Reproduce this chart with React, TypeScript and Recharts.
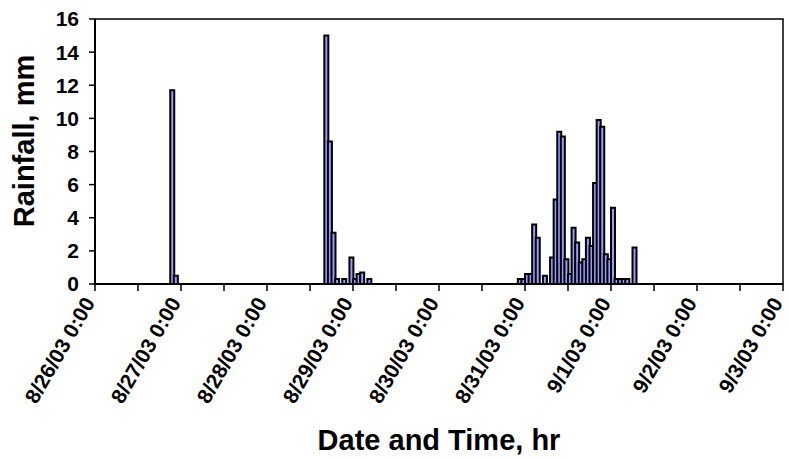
import { BarChart, Bar, XAxis, YAxis, Label, ReferenceArea } from 'recharts';

// hour index (from 8/26/03 0:00) and hourly rainfall, mm
const rainHours = [
  21, 22,
  64, 65, 66, 67, 69, 71, 72, 73, 74, 76,
  118, 119, 120, 121, 122, 123, 125, 127, 128, 129, 130, 131, 132, 133, 134, 135,
  136, 137, 138, 139, 140, 141, 142, 143, 144, 145, 146, 147, 148, 150,
];
const rainMm = [
  11.7, 0.5,
  15.0, 8.6, 3.1, 0.3, 0.3, 1.6, 0.3, 0.6, 0.7, 0.3,
  0.3, 0.3, 0.6, 0.6, 3.6, 2.8, 0.5, 1.6, 5.1, 9.2, 8.9, 1.5, 0.6, 3.4, 2.5, 1.3,
  1.5, 2.8, 2.3, 6.1, 9.9, 9.5, 1.8, 1.5, 4.6, 0.3, 0.3, 0.3, 0.3, 2.2,
];
const dateLabels = [
  '8/26/03 0:00', '8/27/03 0:00', '8/28/03 0:00', '8/29/03 0:00', '8/30/03 0:00',
  '8/31/03 0:00', '9/1/03 0:00', '9/2/03 0:00', '9/3/03 0:00',
];
const yTicks = [0, 2, 4, 6, 8, 10, 12, 14, 16];
const TOTAL_HOURS = 192;

const data = Array.from({ length: TOTAL_HOURS }, (_, h) => {
  const i = rainHours.indexOf(h);
  return { t: h + 0.5, rain: i >= 0 ? rainMm[i] : 0 };
});
const xTicks = Array.from({ length: TOTAL_HOURS / 12 + 1 }, (_, i) => i * 12);

const FONT = '"Liberation Sans", Arial, sans-serif';

function DateTick({ x, y, payload }: any) {
  const idx = payload.value / 24;
  if (!Number.isInteger(idx)) return null;
  const ax = x - 6;
  const ay = y + 4;
  return (
    <text
      x={ax}
      y={ay}
      transform={`rotate(-60 ${ax} ${ay})`}
      textAnchor="end"
      dominantBaseline="central"
      fontFamily={FONT}
      fontWeight="bold"
      fontSize={21}
      fill="#000"
    >
      {dateLabels[idx]}
    </text>
  );
}

export default function App() {
  return (
    <div style={{ position: 'absolute', left: 0, top: 0, width: 789, height: 459, background: '#fff' }}>
      <BarChart
        width={789}
        height={459}
        data={data}
        margin={{ top: 19, right: 6, left: 0, bottom: 0 }}
        barCategoryGap={0}
        barGap={0}
      >
        <ReferenceArea x1={0} x2={TOTAL_HOURS} y1={0} y2={16} fill="none" stroke="#000" strokeWidth={1.5} ifOverflow="visible" />
        <XAxis
          dataKey="t"
          type="number"
          domain={[0, TOTAL_HOURS]}
          ticks={xTicks}
          interval={0}
          height={175}
          tickSize={7}
          tickMargin={4}
          axisLine={{ stroke: '#000', strokeWidth: 2 }}
          tickLine={{ stroke: '#000', strokeWidth: 1.5 }}
          tick={<DateTick />}
        >
          <Label
            content={() => (
              <text x={439} y={440} textAnchor="middle" dominantBaseline="central" fontFamily={FONT} fontWeight="bold" fontSize={29} fill="#000">
                Date and Time, hr
              </text>
            )}
          />
        </XAxis>
        <YAxis
          type="number"
          domain={[0, 16]}
          ticks={yTicks}
          interval={0}
          width={95}
          tickSize={6}
          tickMargin={10}
          axisLine={{ stroke: '#000', strokeWidth: 2 }}
          tickLine={{ stroke: '#000', strokeWidth: 1.5 }}
          tick={{ fontFamily: FONT, fontWeight: 'bold', fontSize: 21, fill: '#000' }}
        >
          <Label
            content={() => (
              <text x={24} y={141} transform="rotate(-90 24 141)" textAnchor="middle" dominantBaseline="central" fontFamily={FONT} fontWeight="bold" fontSize={29} fill="#000">
                Rainfall, mm
              </text>
            )}
          />
        </YAxis>
        <Bar dataKey="rain" fill="#9999FF" stroke="#000" strokeWidth={2} isAnimationActive={false} />
      </BarChart>
    </div>
  );
}
